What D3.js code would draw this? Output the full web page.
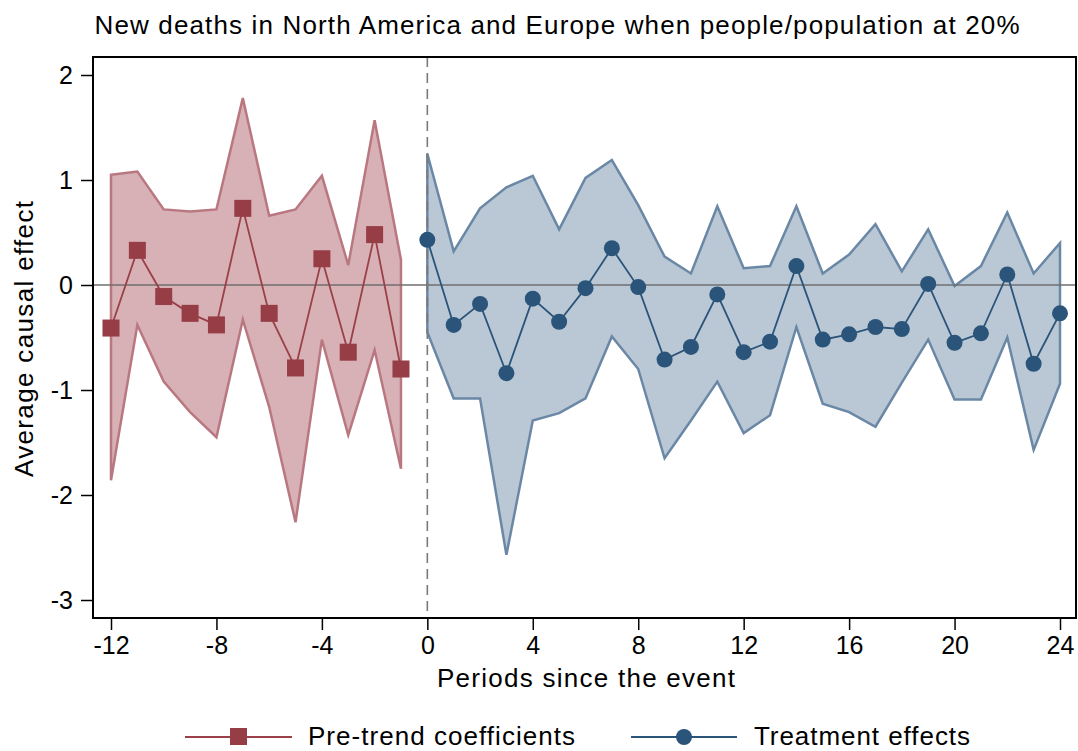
<!DOCTYPE html>
<html>
<head>
<meta charset="utf-8">
<script src="https://cdn.jsdelivr.net/npm/d3@7"></script>
<style>
  body { margin: 0; background: #fff; }
  svg { font-family: 'Liberation Sans', Arial, sans-serif; }
</style>
</head>
<body>
<div id="chart"></div>
<script>
// pre-event periods
var prePeriods = [-12, -11, -10, -9, -8, -7, -6, -5, -4, -3, -2, -1];
var preCoef = [-0.41, 0.33, -0.11, -0.27, -0.38, 0.73, -0.27, -0.79, 0.25, -0.64, 0.48, -0.80];
var preUpper = [1.05, 1.08, 0.72, 0.70, 0.72, 1.78, 0.66, 0.72, 1.04, 0.19, 1.57, 0.24];
var preLower = [-1.86, -0.38, -0.92, -1.21, -1.45, -0.33, -1.16, -2.26, -0.52, -1.43, -0.62, -1.75];

// post-event periods
var postPeriods = [0, 1, 2, 3, 4, 5, 6, 7, 8, 9, 10, 11, 12, 13, 14, 15, 16, 17, 18, 19, 20, 21, 22, 23, 24];
var postCoef = [0.43, -0.38, -0.18, -0.84, -0.13, -0.35, -0.03, 0.35, -0.02, -0.71, -0.59, -0.09, -0.64,
    -0.54, 0.18, -0.52, -0.47, -0.40, -0.42, 0.01, -0.55, -0.46, 0.10, -0.75, -0.27];
var postUpper = [1.25, 0.32, 0.73, 0.93, 1.04, 0.53, 1.02, 1.19, 0.76, 0.27, 0.11, 0.75, 0.16,
    0.18, 0.75, 0.11, 0.29, 0.58, 0.13, 0.53, -0.01, 0.18, 0.69, 0.11, 0.40];
var postLower = [-0.45, -1.08, -1.08, -2.57, -1.29, -1.22, -1.08, -0.49, -0.80, -1.65, -1.29, -0.92, -1.41,
    -1.24, -0.40, -1.13, -1.21, -1.35, -0.93, -0.52, -1.09, -1.09, -0.50, -1.57, -0.94];

var xTicks = [-12, -8, -4, 0, 4, 8, 12, 16, 20, 24];
var yTicks = [2, 1, 0, -1, -2, -3];

var width = 1078, height = 751;
var frame = {left: 93, top: 57, right: 1076, bottom: 618};

var svg = d3.select('#chart').append('svg')
    .attr('width', width)
    .attr('height', height);

var x = d3.scaleLinear().domain([-12, 24]).range([111, 1060]);
var y = d3.scaleLinear().domain([-3, 2]).range([600, 75]);

function series(periods, coef, upper, lower) {
    return periods.map(function (p, i) {
        return {t: p, b: coef[i], hi: upper[i], lo: lower[i]};
    });
}
var pre = series(prePeriods, preCoef, preUpper, preLower);
var post = series(postPeriods, postCoef, postUpper, postLower);

var red = {fill: '#cd9ea3', band: '#b97880', mark: '#963d46', line: '#9b3f48'};
var blue = {fill: '#a9bacb', band: '#6a88a5', mark: '#2a5479', line: '#2a5479'};

// text helper: width pinned to what the reference shows
function label(sel, px, py, str, size, len, anchor) {
    return sel.append('text')
        .attr('x', px).attr('y', py)
        .attr('text-anchor', anchor || 'middle')
        .attr('font-size', size)
        .attr('textLength', len)
        .attr('lengthAdjust', 'spacing')
        .text(str);
}

// title
label(svg, 557, 34, 'New deaths in North America and Europe when people/population at 20%', 26, 925);

// bands
var area = d3.area()
    .x(function (d) { return x(d.t); })
    .y0(function (d) { return y(d.lo); })
    .y1(function (d) { return y(d.hi); });

[[pre, red], [post, blue]].forEach(function (s) {
    svg.append('path')
        .datum(s[0])
        .attr('d', area)
        .attr('fill', s[1].fill)
        .attr('fill-opacity', 0.8)
        .attr('stroke', s[1].band)
        .attr('stroke-width', 2.5)
        .attr('stroke-linejoin', 'miter');
});

// reference lines
svg.append('line')
    .attr('x1', frame.left).attr('x2', frame.right)
    .attr('y1', y(0)).attr('y2', y(0))
    .attr('stroke', '#6f6f6f').attr('stroke-width', 1.6);

svg.append('line')
    .attr('x1', x(0)).attr('x2', x(0))
    .attr('y1', frame.top).attr('y2', frame.bottom)
    .attr('stroke', '#7a7a7a').attr('stroke-width', 1.6)
    .attr('stroke-dasharray', '10,6');

// coefficient lines
var line = d3.line()
    .x(function (d) { return x(d.t); })
    .y(function (d) { return y(d.b); });

svg.append('path').datum(pre).attr('d', line)
    .attr('fill', 'none').attr('stroke', red.line).attr('stroke-width', 1.8);
svg.append('path').datum(post).attr('d', line)
    .attr('fill', 'none').attr('stroke', blue.line).attr('stroke-width', 1.8);

// markers
svg.append('g').selectAll('rect')
    .data(pre).enter().append('rect')
    .attr('x', function (d) { return x(d.t) - 8.5; })
    .attr('y', function (d) { return y(d.b) - 8.5; })
    .attr('width', 17).attr('height', 17)
    .attr('fill', red.mark);

svg.append('g').selectAll('circle')
    .data(post).enter().append('circle')
    .attr('cx', function (d) { return x(d.t); })
    .attr('cy', function (d) { return y(d.b); })
    .attr('r', 8)
    .attr('fill', blue.mark);

// frame
svg.append('rect')
    .attr('x', frame.left).attr('y', frame.top)
    .attr('width', frame.right - frame.left)
    .attr('height', frame.bottom - frame.top)
    .attr('fill', 'none')
    .attr('stroke', '#000').attr('stroke-width', 2);

// axes
var fmt = function (v) { return String(v); };

var xAxis = d3.axisBottom(x).tickValues(xTicks).tickFormat(fmt).tickSize(12).tickPadding(6);
var gx = svg.append('g')
    .attr('transform', 'translate(0,' + frame.bottom + ')')
    .call(xAxis);
gx.select('.domain').remove();
gx.selectAll('line').attr('stroke-width', 1.5);
gx.selectAll('text').attr('font-size', 25).attr('fill', '#000')
    .attr('font-family', "'Liberation Sans', Arial, sans-serif");

var yAxis = d3.axisLeft(y).tickValues(yTicks).tickFormat(fmt).tickSize(12).tickPadding(8);
var gy = svg.append('g')
    .attr('transform', 'translate(' + frame.left + ',0)')
    .call(yAxis);
gy.select('.domain').remove();
gy.selectAll('line').attr('stroke-width', 1.5);
gy.selectAll('text').attr('font-size', 25).attr('fill', '#000')
    .attr('font-family', "'Liberation Sans', Arial, sans-serif");

// axis titles
label(svg, 586, 687, 'Periods since the event', 26, 298);

svg.append('text')
    .attr('transform', 'translate(33,339) rotate(-90)')
    .attr('text-anchor', 'middle')
    .attr('font-size', 26)
    .attr('textLength', 276)
    .attr('lengthAdjust', 'spacing')
    .text('Average causal effect');

// legend (kept a little above the bottom edge)
var legend = svg.append('g');
legend.append('line')
    .attr('x1', 185).attr('x2', 292).attr('y1', 737).attr('y2', 737)
    .attr('stroke', red.line).attr('stroke-width', 1.8);
legend.append('rect')
    .attr('x', 230).attr('y', 728).attr('width', 17).attr('height', 17)
    .attr('fill', red.mark);
label(legend, 308, 745, 'Pre-trend coefficients', 26, 267, 'start');

legend.append('line')
    .attr('x1', 631).attr('x2', 737).attr('y1', 737).attr('y2', 737)
    .attr('stroke', blue.line).attr('stroke-width', 1.8);
legend.append('circle')
    .attr('cx', 684).attr('cy', 737).attr('r', 8)
    .attr('fill', blue.mark);
label(legend, 754, 745, 'Treatment effects', 26, 216, 'start');
</script>
</body>
</html>
